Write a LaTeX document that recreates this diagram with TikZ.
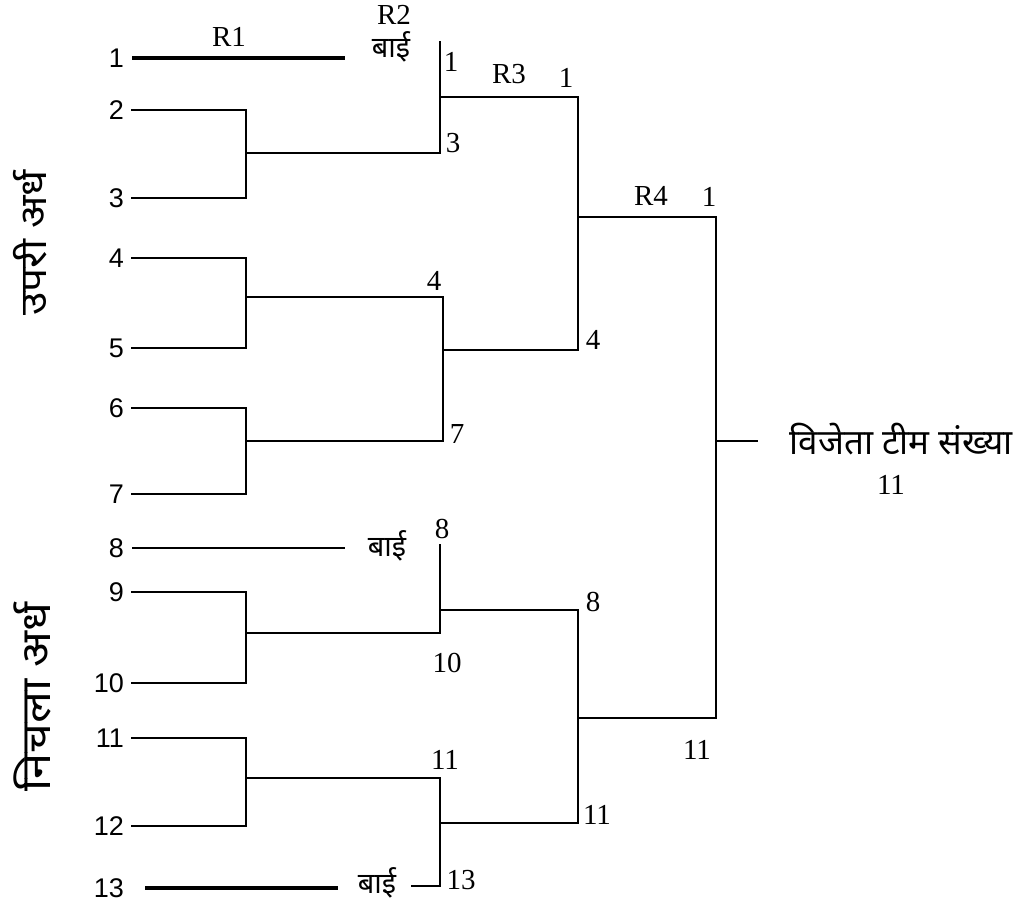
\documentclass[tikz,border=0pt]{standalone}
\usepackage{fontspec}
\setmainfont{Liberation Serif}
\newfontfamily\hindi[Script=Devanagari]{Noto Sans}
\newfontfamily\hindiwide[Script=Devanagari,FakeStretch=1.15]{Noto Sans}
\newfontfamily\arial{Liberation Sans}
\begin{document}
\begin{tikzpicture}[x=1pt,y=-1pt,
  wire/.style={line width=1.8pt,line cap=rect},
  heavy/.style={line width=4.5pt},
  team/.style={font=\arial\fontsize{27}{27}\selectfont,anchor=east,inner sep=0pt},
  lbl/.style={font=\fontsize{29}{29}\selectfont,inner sep=0pt},
  bye/.style={font=\hindi\fontsize{29}{29}\selectfont,inner sep=0pt},
  half/.style={rotate=90,inner sep=0pt}]
\useasboundingbox (0,0) rectangle (1021,912);

% team numbers
\foreach \n/\y in {1/58,2/110,3/198,4/258,5/348,6/408,7/494,8/548,9/592,10/683,11/738,12/826,13/888}
  \node[team] (t\n) at (124,\y) {\n};

% halves
\node[half,font=\hindiwide\bfseries\fontsize{37}{37}\selectfont] (upper) at (30,243) {उपरी अर्ध};
\node[half,font=\hindiwide\bfseries\fontsize{41}{41}\selectfont] (lower) at (32,697) {निचला अर्ध};

% first-round junctions
\coordinate (j23) at (246,153);
\coordinate (j45) at (246,297);
\coordinate (j67) at (246,441);
\coordinate (j910) at (246,633);
\coordinate (j1112) at (246,778);

% second-round columns
\coordinate (k1top) at (440,42);
\coordinate (k1) at (440,97);
\coordinate (k3) at (440,153);
\coordinate (k4) at (443,297);
\coordinate (k47) at (443,350);
\coordinate (k7) at (443,441);
\coordinate (k8top) at (440,545);
\coordinate (k8) at (440,610);
\coordinate (k10) at (440,633);
\coordinate (k11) at (440,778);
\coordinate (k1113) at (440,823);
\coordinate (k13) at (440,886);

% third-round column
\coordinate (m1) at (578,97);
\coordinate (m14) at (578,217);
\coordinate (m4) at (578,350);
\coordinate (m8) at (578,610);
\coordinate (m811) at (578,718);
\coordinate (m11) at (578,823);

% final column
\coordinate (f1) at (716,217);
\coordinate (fw) at (716,441);
\coordinate (f11) at (716,718);
\coordinate (win) at (757,441);

% byes
\draw[heavy] (132,58) coordinate (b1s) -- (345,58) coordinate (b1e);
\node[bye] (bye1) at (391,47) {बाई};
\node[lbl] (r2) at (394,15) {R2};
\node[lbl] (r1) at (229,37) {R1};
\draw[line width=2.6pt] (132,548) coordinate (b8s) -- (345,548) coordinate (b8e);
\node[bye] (bye8) at (387,546) {बाई};
\draw[heavy] (145,888) coordinate (b13s) -- (338,888) coordinate (b13e);
\node[bye] (bye13) at (377,883) {बाई};

% first round brackets
\draw[wire] (132,110) -| (j23) |- (132,198);
\draw[wire] (j23) -- (k3);
\draw[wire] (132,258) -| (j45) |- (132,348);
\draw[wire] (j45) -- (k4);
\draw[wire] (132,408) -| (j67) |- (132,494);
\draw[wire] (j67) -- (k7);
\draw[wire] (132,592) -| (j910) |- (132,683);
\draw[wire] (j910) -- (k10);
\draw[wire] (132,738) -| (j1112) |- (132,826);
\draw[wire] (j1112) -- (k11);

% second round
\draw[wire] (k1top) -- (k3);
\draw[wire] (k1) -- (m1);
\draw[wire] (k4) -- (k7);
\draw[wire] (k47) -- (m4);
\draw[wire] (k8top) -- (k10);
\draw[wire] (k8) -- (m8);
\draw[wire] (412,886) -- (k13) -- (k11);
\draw[wire] (k1113) -- (m11);

% third round
\draw[wire] (m1) -- (m4);
\draw[wire] (m14) -- (f1);
\draw[wire] (m8) -- (m11);
\draw[wire] (m811) -- (f11);

% final
\draw[wire] (f1) -- (f11);
\draw[wire] (fw) -- (win);

% winner labels
\node[lbl] (l1a) at (451,62) {1};
\node[lbl] (l3) at (453,143) {3};
\node[lbl] (r3) at (509,74) {R3};
\node[lbl] (l1b) at (566,78) {1};
\node[lbl] (l4a) at (434,281) {4};
\node[lbl] (l7) at (457,434) {7};
\node[lbl] (l4b) at (593,340) {4};
\node[lbl] (r4) at (651,196) {R4};
\node[lbl] (l1c) at (709,197) {1};
\node[lbl] (l8a) at (442,529) {8};
\node[lbl] (l10) at (447,663) {10};
\node[lbl] (l8b) at (593,602) {8};
\node[lbl] (l11a) at (445,760) {11};
\node[lbl] (l11b) at (597,815) {11};
\node[lbl] (l13) at (461,880) {13};
\node[lbl] (l11c) at (697,750) {11};
\node[font=\hindi\fontsize{35}{35}\selectfont,inner sep=0pt] (wt) at (901,439) {विजेता टीम संख्या};
\node[lbl] (wn) at (891,485) {11};
\end{tikzpicture}
\end{document}
